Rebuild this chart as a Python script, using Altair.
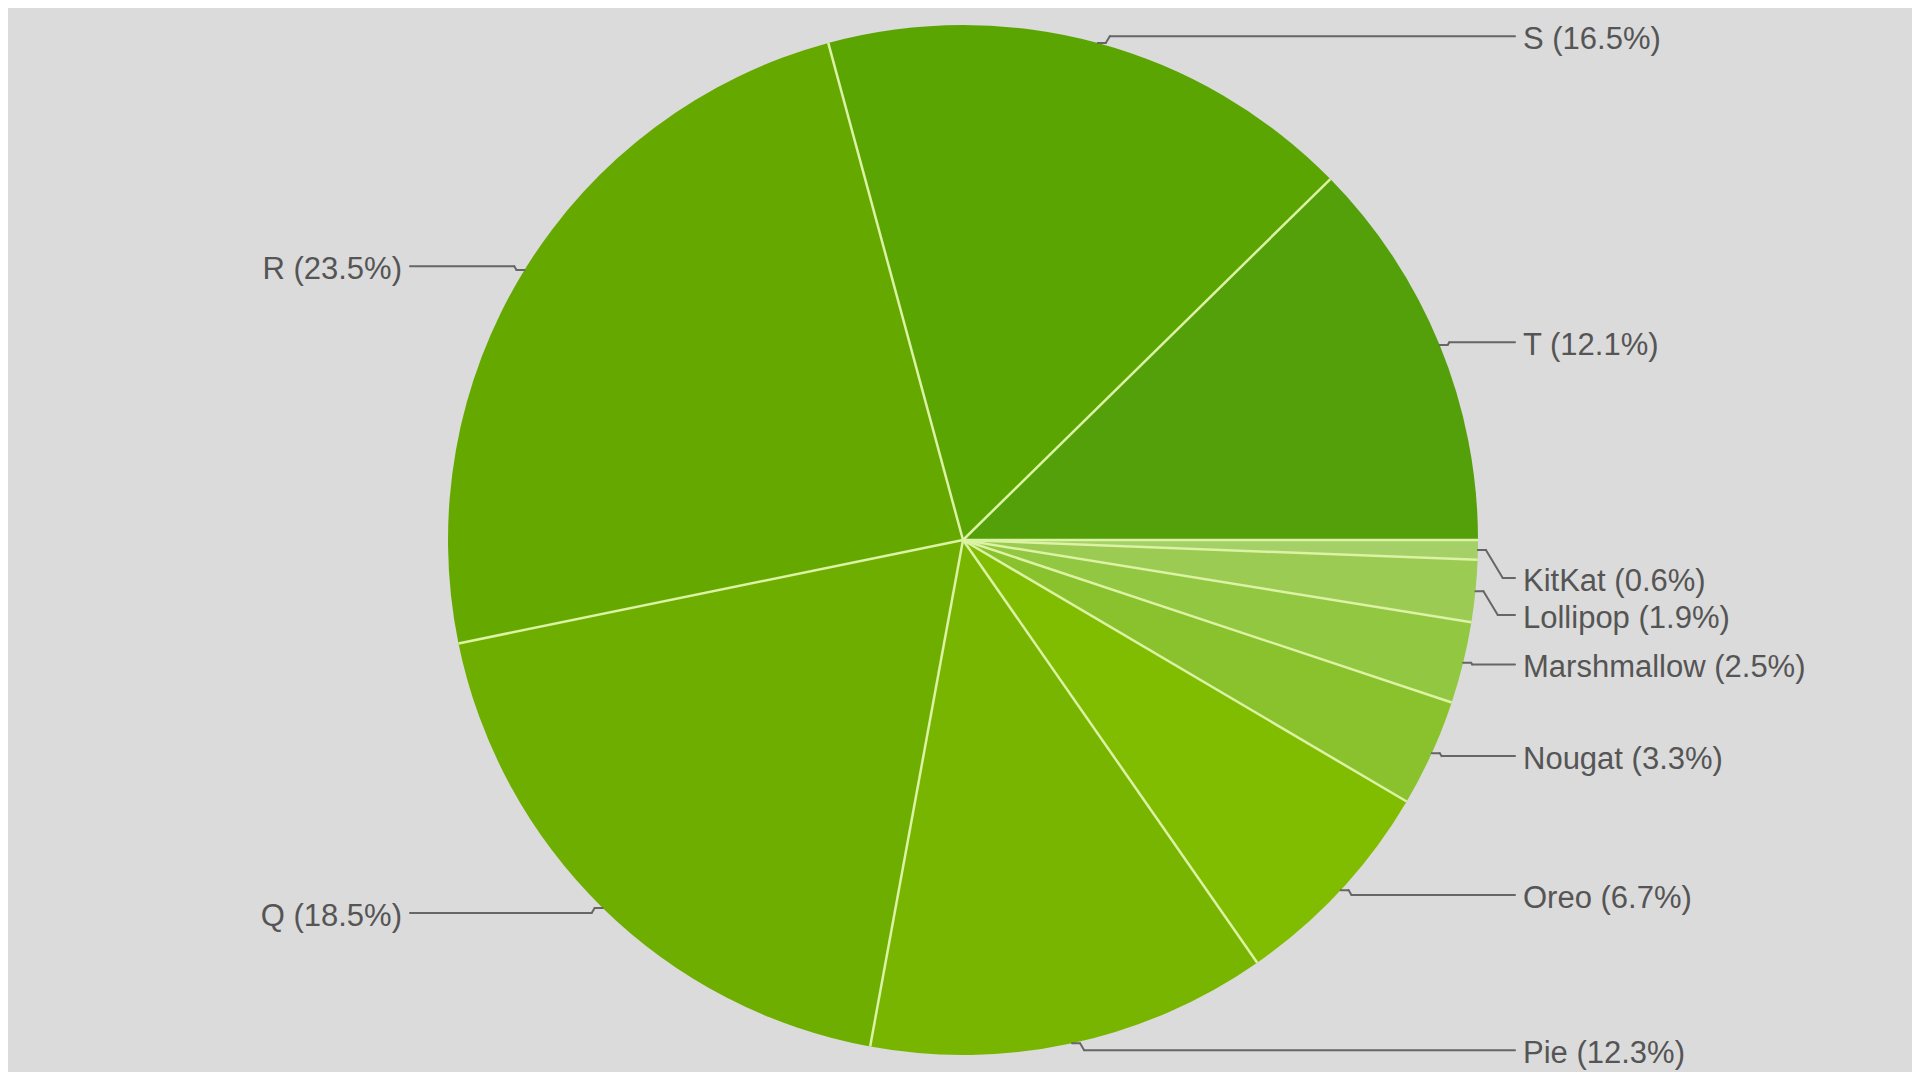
import math
import pandas as pd
import altair as alt

# Data (clockwise from 3 o'clock)
versions = ["KitKat", "Lollipop", "Marshmallow", "Nougat", "Oreo", "Pie", "Q", "R", "S", "T"]
shares = [0.6, 1.9, 2.5, 3.3, 6.7, 12.3, 18.5, 23.5, 16.5, 12.1]
colors = ["#a4d067", "#9bcb52", "#92c742", "#8ac22e", "#80bd00", "#78b500",
          "#6eae00", "#65a900", "#5ba503", "#53a00b"]

df = pd.DataFrame({"idx": list(range(len(versions))), "version": versions, "share": shares})

# Layout (pixels inside the chart)
W, H = 1904, 1064
CX, CY, R = 955, 532, 515
LX_R, LX_L = 1515, 394
BG = "#dbdbdb"
SEP = "#dcf2a4"
LINE = "#666666"
TXT = "#555555"
FONT = "Liberation Sans"

xs = alt.Scale(domain=[0, W], nice=False, zero=False)
ys = alt.Scale(domain=[0, H], nice=False, zero=False, reverse=True)

base = (
    alt.Chart(df)
    .transform_window(cum="sum(share)", sort=[alt.SortField("idx")], frame=[None, 0])
    .transform_joinaggregate(total="sum(share)")
    .transform_calculate(
        start="datum.cum - datum.share",
        mid="datum.cum - datum.share / 2",
    )
    .transform_calculate(
        a="2 * PI * datum.mid / datum.total",
        b="2 * PI * datum.start / datum.total",
    )
    .transform_calculate(
        cx0=f"{CX}",
        cy0=f"{CY}",
        bx=f"{CX} + {R} * cos(datum.b)",
        by=f"{CY} + {R} * sin(datum.b)",
        rx=f"{CX} + {R} * cos(datum.a)",
        ry=f"{CY} + {R} * sin(datum.a)",
        dir="cos(datum.a) >= 0 ? 1 : -1",
        label="datum.version + ' (' + format(datum.share, '.1f') + '%)'",
    )
    .transform_calculate(
        ly=f"(cos(datum.a) > 0 && sin(datum.a) > 0) ? max(datum.ry + 7 * sin(datum.a), {CY} + 38 + 37 * datum.idx) : datum.ry + 7 * sin(datum.a)",
        p1x="datum.rx + datum.dir * 8",
    )
    .transform_calculate(
        p2x="datum.p1x + datum.dir * abs(datum.ly - datum.ry) * 0.6",
        p3x=f"datum.dir > 0 ? {LX_R} - 8 : {LX_L} + 8",
        lx=f"datum.dir > 0 ? {LX_R} : {LX_L}",
    )
)

pie = alt.Chart(df).mark_arc(outerRadius=R).encode(
    theta=alt.Theta("share:Q", stack=True,
                    scale=alt.Scale(range=[math.pi / 2, math.pi / 2 + 2 * math.pi])),
    color=alt.Color("version:N", scale=alt.Scale(domain=versions, range=colors), legend=None),
    order=alt.Order("idx:Q"),
    x=alt.value(CX),
    y=alt.value(CY),
)

seps = base.mark_rule(color=SEP, strokeWidth=2.5).encode(
    x=alt.X("cx0:Q", scale=xs, axis=None),
    y=alt.Y("cy0:Q", scale=ys, axis=None),
    x2="bx:Q",
    y2="by:Q",
)

seg1 = base.mark_rule(color=LINE, strokeWidth=2, strokeCap="round").encode(
    x=alt.X("rx:Q", scale=xs, axis=None),
    y=alt.Y("ry:Q", scale=ys, axis=None),
    x2="p1x:Q",
    y2="ry:Q",
)
seg2 = base.mark_rule(color=LINE, strokeWidth=2, strokeCap="round").encode(
    x=alt.X("p1x:Q", scale=xs, axis=None),
    y=alt.Y("ry:Q", scale=ys, axis=None),
    x2="p2x:Q",
    y2="ly:Q",
)
seg3 = base.mark_rule(color=LINE, strokeWidth=2, strokeCap="round").encode(
    x=alt.X("p2x:Q", scale=xs, axis=None),
    y=alt.Y("ly:Q", scale=ys, axis=None),
    x2="p3x:Q",
    y2="ly:Q",
)

txt_r = base.transform_filter("datum.dir > 0").mark_text(
    align="left", baseline="middle", font=FONT, fontSize=31, color=TXT, dy=4
).encode(
    x=alt.X("lx:Q", scale=xs, axis=None),
    y=alt.Y("ly:Q", scale=ys, axis=None),
    text="label:N",
)
txt_l = base.transform_filter("datum.dir < 0").mark_text(
    align="right", baseline="middle", font=FONT, fontSize=31, color=TXT, dy=4
).encode(
    x=alt.X("lx:Q", scale=xs, axis=None),
    y=alt.Y("ly:Q", scale=ys, axis=None),
    text="label:N",
)

chart = (
    alt.layer(pie, seps, seg1, seg2, seg3, txt_r, txt_l)
    .properties(width=W, height=H, autosize=alt.AutoSizeParams(type="none"), padding=0,
                background=BG)
    .configure_view(stroke=None)
)

chart.save("out.html", embed_options={"renderer": "svg", "actions": False})
